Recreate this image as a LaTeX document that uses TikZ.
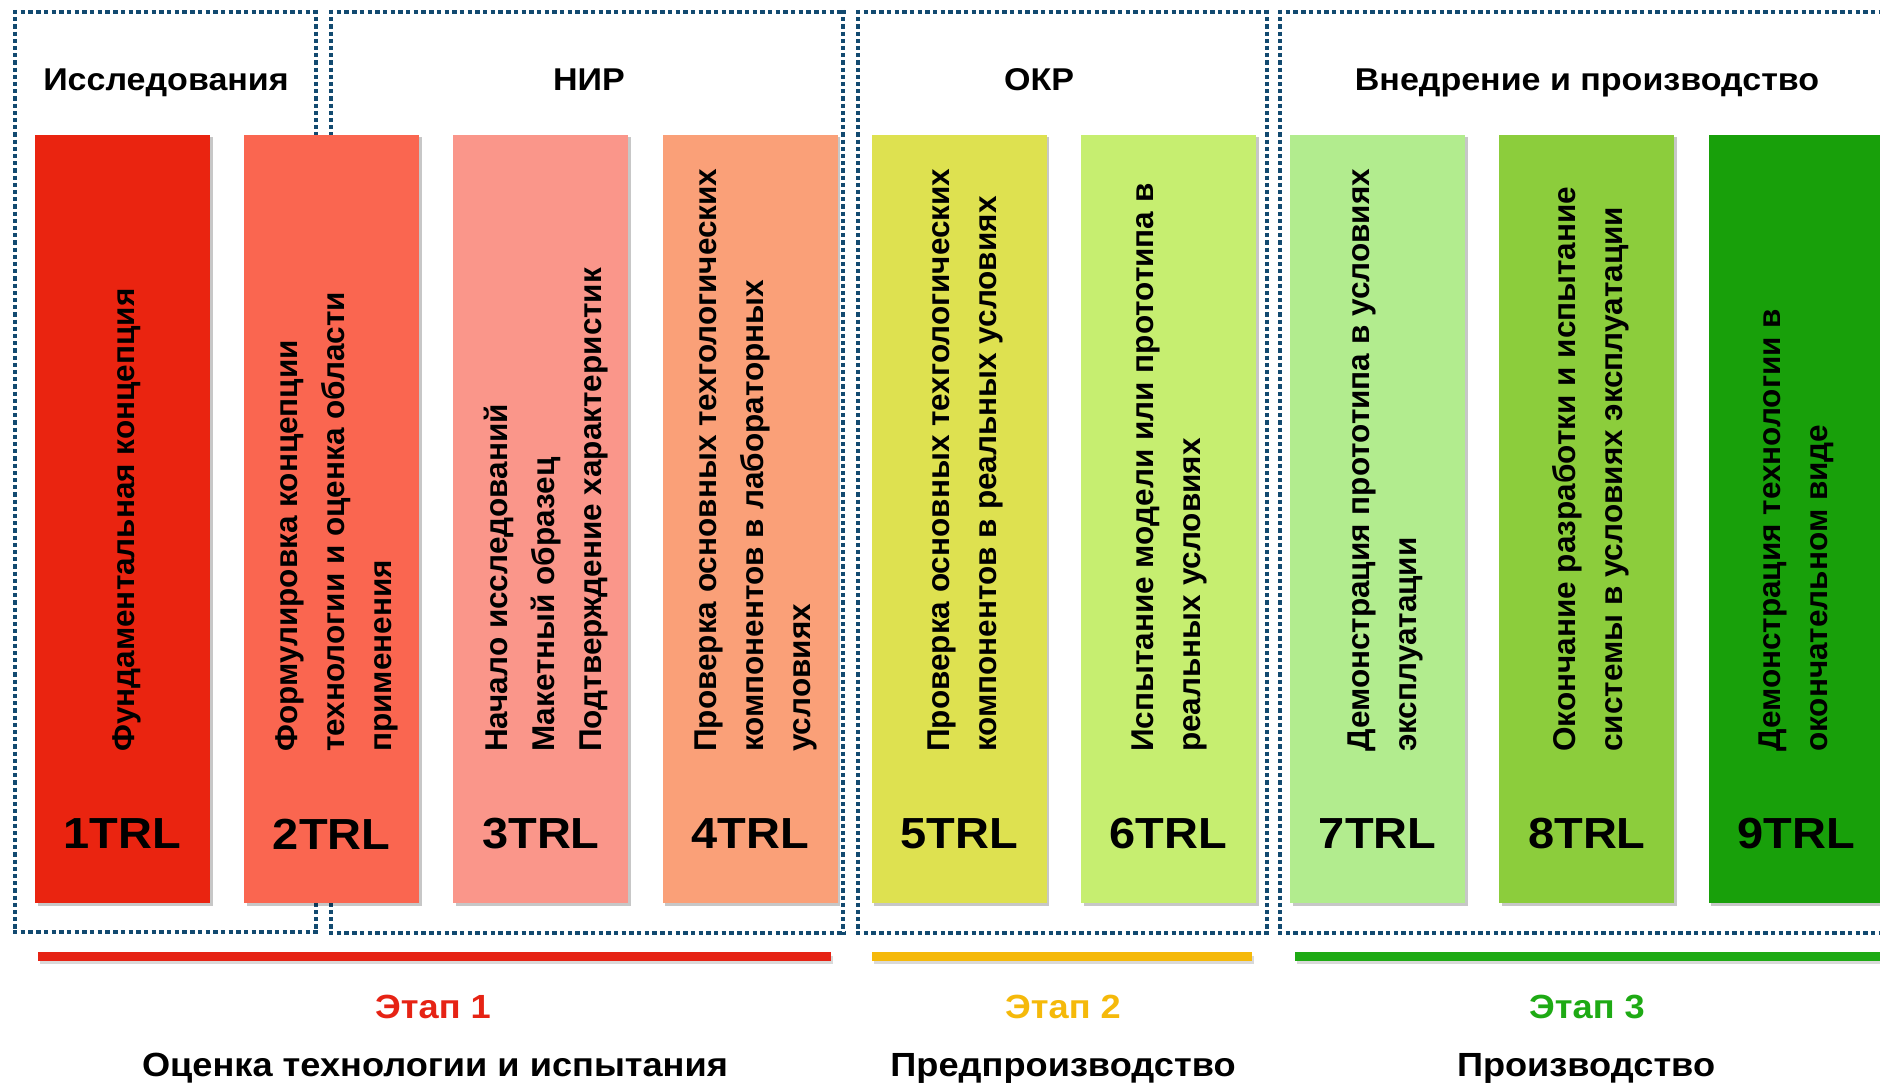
\documentclass[tikz,border=0pt]{standalone}
\usepackage{fontspec}
\setmainfont{Liberation Sans}
\newfontfamily\widefont[FakeStretch=1.08]{Liberation Sans}
\usetikzlibrary{shadows}
\definecolor{dotblue}{RGB}{18,74,112}
\definecolor{cA}{RGB}{234,36,16}
\definecolor{cB}{RGB}{250,102,80}
\definecolor{cC}{RGB}{250,150,138}
\definecolor{cD}{RGB}{250,160,120}
\definecolor{cE}{RGB}{222,225,80}
\definecolor{cF}{RGB}{198,238,112}
\definecolor{cG}{RGB}{178,236,142}
\definecolor{cH}{RGB}{140,205,60}
\definecolor{cI}{RGB}{24,160,10}
\definecolor{stA}{RGB}{230,35,20}
\definecolor{stB}{RGB}{245,185,10}
\definecolor{stC}{RGB}{30,170,20}
\tikzset{
  hdot/.style={draw=dotblue, line width=4.6pt, dash pattern=on 4.4pt off 3.3pt},
  vdot/.style={draw=dotblue, line width=4.6pt, dash pattern=on 4.2pt off 3pt},
  bar/.style={minimum width=175pt, minimum height=768pt, inner sep=0pt, draw=none,
    drop shadow={shadow xshift=2.5pt, shadow yshift=-2.5pt, fill=black, opacity=0.22}},
  vtext/.style={rotate=90, anchor=west, inner sep=0pt, align=left,
    font=\bfseries\fontsize{31.5}{47}\selectfont},
  trl/.style={inner sep=0pt, font=\widefont\bfseries\fontsize{43.5}{50}\selectfont},
  head/.style={inner sep=0pt, anchor=base, font=\widefont\bfseries\fontsize{31.5}{36}\selectfont},
  stagelbl/.style={inner sep=0pt, anchor=base, font=\widefont\bfseries\fontsize{33.5}{38}\selectfont},
  stageline/.style={line width=8.5pt},
  stageshadow/.style={line width=8pt, draw=black, opacity=0.15}
}
\begin{document}
\begin{tikzpicture}[x=1pt,y=-1pt]
\useasboundingbox (0,0) rectangle (1880,1083);
\clip (0,0) rectangle (1880,1083);
\fill[white] (0,0) rectangle (1880,1083);

% dotted group boxes
\draw[hdot] (13,12) -- (318,12);
\draw[hdot] (13,932) -- (318,932);
\draw[vdot] (15,10) -- (15,934);
\draw[vdot] (316,10) -- (316,934);

\draw[hdot] (329,12) -- (845,12);
\draw[hdot] (329,933) -- (845,933);
\draw[vdot] (331,10) -- (331,935);
\draw[vdot] (843,10) -- (843,935);

\draw[hdot] (856,12) -- (1269,12);
\draw[hdot] (856,933) -- (1269,933);
\draw[vdot] (858,10) -- (858,935);
\draw[vdot] (1267,10) -- (1267,935);

\draw[hdot] (1278,12) -- (1900,12);
\draw[hdot] (1278,933) -- (1900,933);
\draw[vdot] (1280,10) -- (1280,935);

% headers
\node[head] (h1) at (166,91) {Исследования};
\node[head] (h2) at (589,91) {НИР};
\node[head] (h3) at (1039,91) {ОКР};
\node[head] (h4) at (1587,91) {Внедрение и производство};

% bars
\node[bar, fill=cA] (b1) at (122.5,519) {};
\node[bar, fill=cB] (b2) at (331.7,519) {};
\node[bar, fill=cC] (b3) at (540.9,519) {};
\node[bar, fill=cD] (b4) at (750.1,519) {};
\node[bar, fill=cE] (b5) at (959.3,519) {};
\node[bar, fill=cF] (b6) at (1168.5,519) {};
\node[bar, fill=cG] (b7) at (1377.7,519) {};
\node[bar, fill=cH] (b8) at (1586.9,519) {};
\node[bar, fill=cI] (b9) at (1796.1,519) {};

% vertical texts
\node[vtext] (t1) at (127,752) {Фундаментальная концепция};
\node[vtext] (t2) at (337,752) {Формулировка концепции\\технологии и оценка области\\применения};
\node[vtext] (t3) at (546,752) {Начало исследований\\Макетный образец\\Подтверждение характеристик};
\node[vtext] (t4) at (756,752) {Проверка основных техгологических\\компонентов в лабораторных\\условиях};
\node[vtext] (t5) at (965,752) {Проверка основных техгологических\\компонентов в реальных условиях};
\node[vtext] (t6) at (1169,752) {Испытание модели или прототипа в\\реальных условиях};
\node[vtext] (t7) at (1385,752) {Демонстрация прототипа в условиях\\эксплуатации};
\node[vtext] (t8) at (1591,752) {Окончание разработки и испытание\\системы в условиях эксплуатации};
\node[vtext] (t9) at (1796,752) {Демонстрация технологии в\\окончательном виде};

% TRL labels
\node[trl] (l1) at (122.5,834) {1TRL};
\node[trl] (l2) at (331.7,834) {2TRL};
\node[trl] (l3) at (540.9,834) {3TRL};
\node[trl] (l4) at (750.1,834) {4TRL};
\node[trl] (l5) at (959.3,834) {5TRL};
\node[trl] (l6) at (1168.5,834) {6TRL};
\node[trl] (l7) at (1377.7,834) {7TRL};
\node[trl] (l8) at (1586.9,834) {8TRL};
\node[trl] (l9) at (1796.1,834) {9TRL};

% stage lines
\coordinate (s1a) at (38,956.5);  \coordinate (s1b) at (831,956.5);
\coordinate (s2a) at (872,956.5); \coordinate (s2b) at (1252,956.5);
\coordinate (s3a) at (1295,956.5);\coordinate (s3b) at (1895,956.5);
\draw[stageshadow] ([shift={(2,3)}]s1a) -- ([shift={(2,3)}]s1b);
\draw[stageshadow] ([shift={(2,3)}]s2a) -- ([shift={(2,3)}]s2b);
\draw[stageshadow] ([shift={(2,3)}]s3a) -- ([shift={(2,3)}]s3b);
\draw[stageline, stA] (s1a) -- (s1b);
\draw[stageline, stB] (s2a) -- (s2b);
\draw[stageline, stC] (s3a) -- (s3b);

% stage labels
\node[stagelbl, text=stA] (e1) at (433,1018) {Этап 1};
\node[stagelbl, text=stB] (e2) at (1063,1018) {Этап 2};
\node[stagelbl, text=stC] (e3) at (1587,1018) {Этап 3};
\node[stagelbl] (d1) at (435,1076) {Оценка технологии и испытания};
\node[stagelbl] (d2) at (1063,1076) {Предпроизводство};
\node[stagelbl] (d3) at (1586,1076) {Производство};
\end{tikzpicture}
\end{document}
